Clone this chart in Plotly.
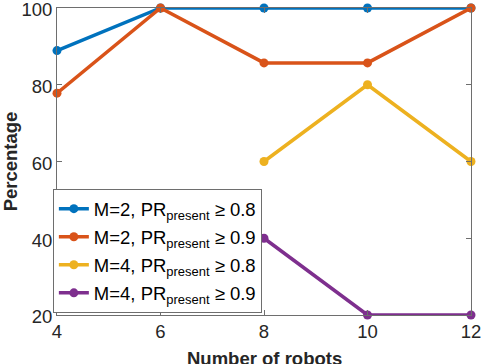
import plotly.graph_objects as go

robots = [4, 6, 8, 10, 12]
m2_08 = [88.9, 100, 100, 100, 100]
m2_09 = [77.8, 100, 85.7, 85.7, 100]
m4_08 = [None, None, 60, 80, 60]
m4_09 = [None, None, 40, 20, 20]
names = ["M=2, PR<sub>present</sub> ≥ 0.8", "M=2, PR<sub>present</sub> ≥ 0.9",
         "M=4, PR<sub>present</sub> ≥ 0.8", "M=4, PR<sub>present</sub> ≥ 0.9"]
colors = ["#0072BD", "#D95319", "#EDB120", "#7E2F8E"]
series = [m2_08, m2_09, m4_08, m4_09]
x_title = "Number of robots"
y_title = "Percentage"

fig = go.Figure()
for i, (s, n, c) in enumerate(zip(series, names, colors)):
    xs = [x for x, v in zip(robots, s) if v is not None]
    ys = [v for v in s if v is not None]
    fig.add_trace(go.Scatter(x=xs, y=ys, name=n, mode="lines+markers",
                             legendgroup=f"g{i}",
                             line=dict(color=c, width=3.5),
                             marker=dict(color=c, size=9, symbol="circle"),
                             cliponaxis=False))

font = "Liberation Sans, Arial, sans-serif"
axcol = "#6e6e6e"
fs = 18.5
fig.update_layout(
    width=482, height=364,
    margin=dict(l=57, r=11, t=8, b=49, autoexpand=False),
    paper_bgcolor="white", plot_bgcolor="white",
    font=dict(family=font, size=fs, color="#262626"),
    showlegend=True,
    legend=dict(x=-0.01, y=0.006, xanchor="left", yanchor="bottom",
                bgcolor="white", bordercolor=axcol, borderwidth=1,
                font=dict(size=fs, color="black"), tracegroupgap=1,
                itemwidth=30),
    xaxis=dict(range=[4, 12], tickvals=[4, 6, 8, 10, 12], showgrid=False,
               zeroline=False, showline=True, linecolor=axcol, linewidth=1,
               mirror="ticks", ticks="inside", ticklen=5, tickcolor=axcol,
               tickfont=dict(size=fs), ticklabeloverflow="allow", automargin=False),
    yaxis=dict(range=[20, 100], tickvals=[20, 40, 60, 80, 100], showgrid=False,
               zeroline=False, showline=True, linecolor=axcol, linewidth=1,
               mirror="ticks", ticks="inside", ticklen=5, tickcolor=axcol,
               tickfont=dict(size=fs), ticklabeloverflow="allow", automargin=False,
               ticklabelshift=2,
               title=dict(text=f"<b>{y_title}</b>", font=dict(size=fs), standoff=2)),
    annotations=[dict(text=f"<b>{x_title}</b>", xref="paper", yref="paper",
                      x=0.5, y=0, xanchor="center", yanchor="top", yshift=-31,
                      showarrow=False, font=dict(size=fs, color="#262626"))],
)
fig.write_html("out.html", config={"displayModeBar": False},
               post_script="document.body.style.margin='0';document.body.style.overflow='hidden';")
